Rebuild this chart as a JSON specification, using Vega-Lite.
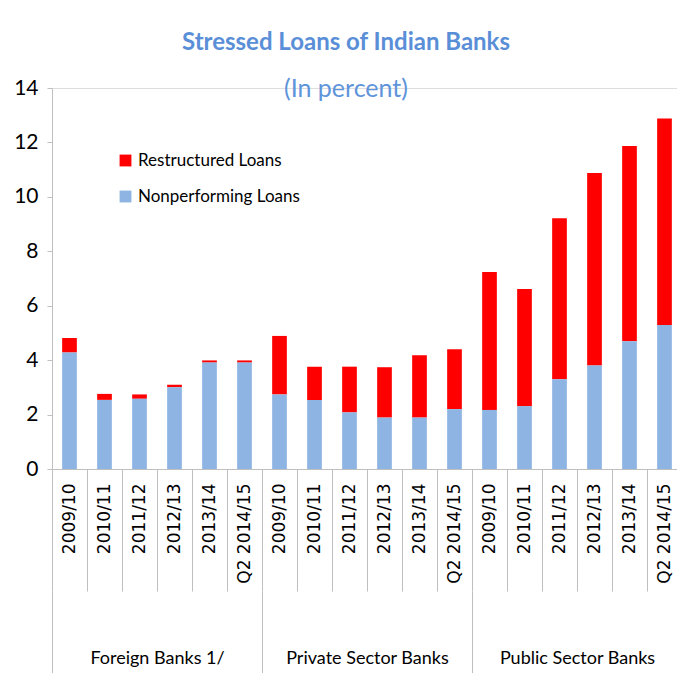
{
  "$schema": "https://vega.github.io/schema/vega-lite/v6.json",
  "width": 630,
  "height": 381,
  "autosize": {"type": "none"},
  "padding": {"left": 52, "top": 88, "right": 0, "bottom": 204},
  "background": "white",
  "title": {
    "text": "Stressed Loans of Indian Banks",
    "subtitle": "(In percent)",
    "anchor": "middle",
    "frame": "group",
    "dx": -21,
    "offset": -25,
    "font": "Lato",
    "fontSize": 24,
    "fontWeight": "bold",
    "color": "#5A8FD8",
    "subtitleFont": "Lato",
    "subtitleFontSize": 25,
    "subtitleColor": "#5F94DB",
    "subtitlePadding": 22
  },
  "data": {
    "values": [
      {"id": "F|2009/10", "group": "Foreign Banks 1/", "Nonperforming Loans": 4.28, "Restructured Loans": 0.53},
      {"id": "F|2010/11", "group": "Foreign Banks 1/", "Nonperforming Loans": 2.54, "Restructured Loans": 0.22},
      {"id": "F|2011/12", "group": "Foreign Banks 1/", "Nonperforming Loans": 2.58, "Restructured Loans": 0.16},
      {"id": "F|2012/13", "group": "Foreign Banks 1/", "Nonperforming Loans": 3.0, "Restructured Loans": 0.1},
      {"id": "F|2013/14", "group": "Foreign Banks 1/", "Nonperforming Loans": 3.91, "Restructured Loans": 0.08},
      {"id": "F|Q2 2014/15", "group": "Foreign Banks 1/", "Nonperforming Loans": 3.91, "Restructured Loans": 0.08},
      {"id": "P|2009/10", "group": "Private Sector Banks", "Nonperforming Loans": 2.74, "Restructured Loans": 2.15},
      {"id": "P|2010/11", "group": "Private Sector Banks", "Nonperforming Loans": 2.54, "Restructured Loans": 1.22},
      {"id": "P|2011/12", "group": "Private Sector Banks", "Nonperforming Loans": 2.08, "Restructured Loans": 1.68},
      {"id": "P|2012/13", "group": "Private Sector Banks", "Nonperforming Loans": 1.89, "Restructured Loans": 1.85},
      {"id": "P|2013/14", "group": "Private Sector Banks", "Nonperforming Loans": 1.89, "Restructured Loans": 2.29},
      {"id": "P|Q2 2014/15", "group": "Private Sector Banks", "Nonperforming Loans": 2.2, "Restructured Loans": 2.2},
      {"id": "U|2009/10", "group": "Public Sector Banks", "Nonperforming Loans": 2.17, "Restructured Loans": 5.07},
      {"id": "U|2010/11", "group": "Public Sector Banks", "Nonperforming Loans": 2.31, "Restructured Loans": 4.3},
      {"id": "U|2011/12", "group": "Public Sector Banks", "Nonperforming Loans": 3.3, "Restructured Loans": 5.91},
      {"id": "U|2012/13", "group": "Public Sector Banks", "Nonperforming Loans": 3.8, "Restructured Loans": 7.08},
      {"id": "U|2013/14", "group": "Public Sector Banks", "Nonperforming Loans": 4.69, "Restructured Loans": 7.18},
      {"id": "U|Q2 2014/15", "group": "Public Sector Banks", "Nonperforming Loans": 5.29, "Restructured Loans": 7.59}
    ]
  },
  "transform": [{"fold": ["Restructured Loans", "Nonperforming Loans"], "as": ["type", "value"]}],
  "layer": [
    {
      "mark": {"type": "bar", "width": {"band": 0.42}},
      "encoding": {
        "x": {
          "field": "id", "type": "nominal", "sort": null,
          "scale": {"paddingInner": 0, "paddingOuter": 0},
          "axis": {
            "title": null, "orient": "bottom", "labelAngle": -90,
            "labelExpr": "split(datum.value,'|')[1]",
            "labelFont": "DejaVu Sans", "labelFontSize": 17, "labelColor": "#000000",
            "labelAlign": "right", "labelBaseline": "middle",
            "tickBand": "extent", "tickSize": 122, "tickColor": "#BFBFBF", "tickWidth": 1,
            "domainColor": "#BFBFBF", "labelPadding": -108
          }
        },
        "y": {
          "field": "value", "type": "quantitative", "stack": "zero",
          "scale": {"domain": [0, 14], "nice": false},
          "axis": {
            "title": null, "values": [0, 2, 4, 6, 8, 10, 12, 14], "grid": false,
            "domainColor": "#BFBFBF", "tickColor": "#BFBFBF", "tickSize": 5,
            "labelFont": "Lato", "labelFontSize": 21, "labelPadding": 9, "labelColor": "#000000"
          }
        },
        "color": {
          "field": "type", "type": "nominal",
          "scale": {"domain": ["Restructured Loans", "Nonperforming Loans"], "range": ["#FF0000", "#8EB4E3"]},
          "legend": {
            "orient": "none", "legendX": 65, "legendY": 64, "title": null,
            "symbolType": "square", "symbolSize": 140, "symbolStrokeWidth": 0,
            "labelFont": "Lato", "labelFontSize": 17, "labelColor": "#000000", "labelLimit": 0,
            "rowPadding": 18, "labelOffset": 4
          }
        },
        "order": {"field": "type", "sort": "ascending"}
      }
    },
    {
      "mark": {"type": "rule", "opacity": 0},
      "encoding": {
        "x": {
          "field": "group", "type": "nominal", "sort": null,
          "scale": {"paddingInner": 0, "paddingOuter": 0},
          "axis": {
            "title": null, "orient": "bottom", "offset": 122, "domain": false,
            "tickBand": "extent", "tickSize": 82, "tickColor": "#BFBFBF", "tickWidth": 1,
            "labelFont": "Lato", "labelFontSize": 18, "labelPadding": -24,
            "labelAngle": 0, "labelColor": "#000000", "labelBaseline": "top"
          }
        }
      }
    }
  ],
  "resolve": {"scale": {"x": "independent"}}
}
